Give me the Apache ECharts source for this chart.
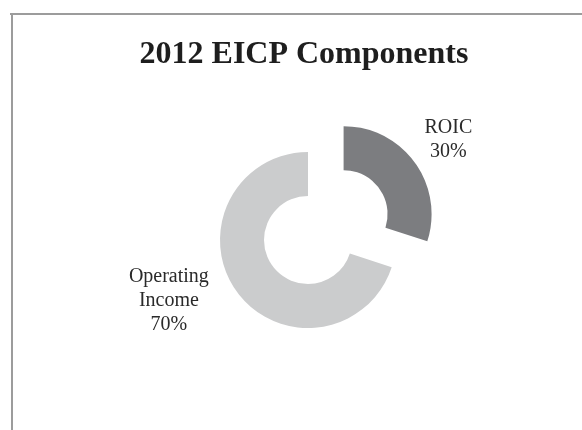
<!DOCTYPE html>
<html>
<head>
<meta charset="utf-8">
<script src="https://cdn.jsdelivr.net/npm/echarts@6/dist/echarts.min.js"></script>
<style>
html,body{margin:0;padding:0;background:#fff;}
#chart{width:582px;height:430px;}
</style>
</head>
<body>
<div id="chart"></div>
<script>
var titleText = '2012 EICP Components';
var categories = ['ROIC', 'Operating\nIncome'];
var values = [30, 70];
var colors = ['#7c7d80', '#cbcccd'];

var chart = echarts.init(document.getElementById('chart'), null, {renderer: 'canvas'});
var serif = '"Liberation Serif", "Times New Roman", serif';

var lineLens = [[39, 2], [16, 55]];

var data = categories.map(function (c, i) {
  return {
    name: c,
    value: values[i],
    selected: i === 0,
    itemStyle: {color: colors[i]},
    labelLine: {show: false, length: lineLens[i][0], length2: lineLens[i][1]}
  };
});

chart.setOption({
  animation: false,
  backgroundColor: '#ffffff',
  title: {
    text: titleText,
    left: 299,
    top: 34,
    textAlign: 'center',
    textStyle: {fontFamily: serif, fontWeight: 'bold', fontSize: 32, color: '#1e1e1e'}
  },
  graphic: [
    {type: 'line', shape: {x1: 10, y1: 14, x2: 582, y2: 14}, style: {stroke: '#9c9c9c', lineWidth: 2}},
    {type: 'line', shape: {x1: 12, y1: 14, x2: 12, y2: 430}, style: {stroke: '#9c9c9c', lineWidth: 2}}
  ],
  series: [{
    type: 'pie',
    center: [308, 240],
    radius: [44, 88],
    startAngle: 90,
    clockwise: true,
    selectedMode: 'single',
    selectedOffset: 44,
    emphasis: {scale: false, disabled: true},
    label: {
      show: true,
      position: 'outside',
      distanceToLabelLine: 0,
      fontFamily: serif,
      fontSize: 20,
      lineHeight: 24,
      color: '#2a2a2a',
      formatter: function (p) { return p.name + '\n' + p.value + '%'; }
    },
    labelLine: {show: false},
    labelLayout: {align: 'center'},
    data: data
  }]
});
</script>
</body>
</html>
